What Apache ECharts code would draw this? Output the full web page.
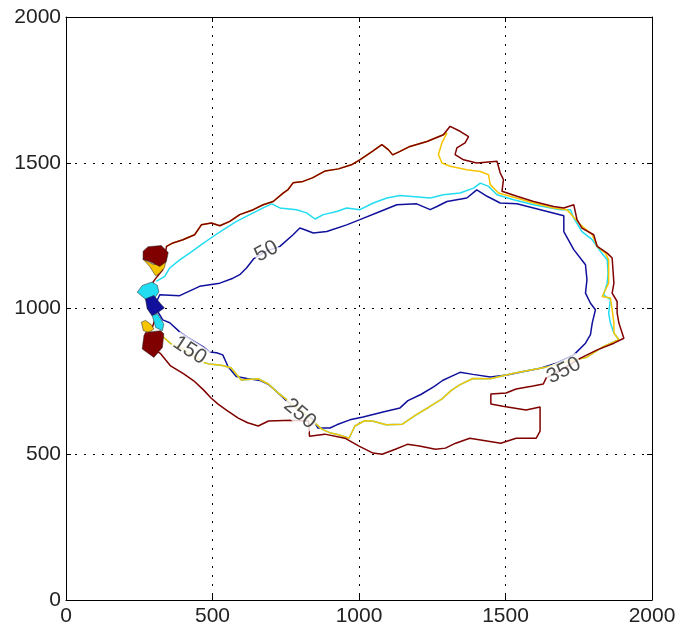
<!DOCTYPE html>
<html>
<head>
<meta charset="utf-8">
<title>contour</title>
<script src="https://cdn.jsdelivr.net/npm/echarts@6/dist/echarts.min.js"></script>
<style>
  html, body { margin: 0; padding: 0; background: #fff; }
  #chart { width: 680px; height: 631px; }
</style>
</head>
<body>
<div id="chart"></div>
<script>
// axis ticks
const ticks = [0, 500, 1000, 1500, 2000]

// contour 50 (dark blue), closed loop
const c50 = [[299,1002],[320,1047],[388,1044],[456,1076],[525,1087],[570,1104],[593,1116],[616,1139],[640,1170],[681,1196],[730,1213],[775,1253],[798,1276],[815,1270],[844,1259],[890,1264],[958,1287],[1003,1305],[1072,1333],[1129,1356],[1197,1359],[1243,1339],[1266,1350],[1300,1367],[1368,1379],[1402,1407],[1437,1385],[1482,1362],[1539,1359],[1619,1339],[1699,1318],[1699,1264],[1733,1202],[1773,1150],[1778,1099],[1773,1053],[1790,1018],[1807,996],[1796,950],[1790,910],[1773,881],[1733,841],[1676,813],[1619,795],[1562,784],[1505,772],[1448,765],[1389,774],[1345,781],[1315,767],[1285,753],[1256,732],[1211,705],[1167,684],[1140,659],[1082,645],[1014,628],[969,618],[924,601],[901,590],[860,590],[841,622],[796,650],[752,684],[722,712],[692,739],[663,753],[618,760],[581,767],[552,802],[548,812],[535,841],[514,848],[490,851],[467,869],[412,903],[388,920],[354,951],[330,961],[314,988],[299,1002]]

// contour 150 (cyan)
const c150 = [[308,1093],[337,1110],[354,1139],[388,1167],[422,1190],[462,1219],[502,1247],[536,1270],[582,1299],[627,1322],[673,1345],[702,1359],[730,1345],[787,1339],[821,1328],[850,1307],[878,1322],[924,1333],[958,1345],[1003,1339],[1049,1362],[1095,1379],[1140,1388],[1243,1379],[1288,1390],[1345,1396],[1391,1413],[1414,1430],[1442,1419],[1471,1390],[1528,1373],[1596,1356],[1687,1339],[1722,1339],[1733,1310],[1761,1264],[1796,1236],[1824,1196],[1847,1167],[1850,1120],[1847,1087],[1835,1047],[1858,1030],[1852,984],[1858,950],[1870,916],[1887,893],[1835,870],[1778,833],[1710,818],[1642,799],[1528,778],[1448,759],[1389,760],[1345,739],[1315,719],[1285,691],[1241,663],[1196,636],[1148,603],[1093,601],[1045,614],[1019,615],[986,597],[966,555],[930,567],[900,574],[873,586],[841,615],[811,643],[781,663],[752,688],[722,712],[691,741],[656,759],[598,755],[563,797],[530,805],[488,810],[470,815],[426,843],[396,864],[359,878],[337,898],[322,912]]

// upper rim shared by contours 250 and 350
const rim = [[343,1213],[365,1225],[399,1236],[439,1253],[462,1287],[496,1293],[525,1284],[559,1299],[593,1322],[639,1339],[673,1356],[707,1367],[741,1396],[758,1408],[775,1431],[809,1436],[841,1448],[885,1472],[930,1479],[974,1493],[1004,1511],[1048,1541],[1078,1562],[1100,1545],[1115,1527],[1140,1539],[1174,1556],[1232,1573],[1288,1596]]

// contour 250 (yellow), after the rim
const c250tail = [[1300,1602],[1283,1568],[1271,1528],[1283,1499],[1311,1488],[1368,1476],[1414,1470],[1442,1459],[1448,1425],[1476,1396],[1516,1385],[1596,1362],[1664,1345],[1710,1339],[1756,1287],[1796,1253],[1813,1213],[1841,1190],[1852,1167],[1852,1087],[1830,1041],[1858,1036],[1864,996],[1870,950],[1870,916],[1887,893],[1835,870],[1778,833],[1710,818],[1642,799],[1528,778],[1448,759],[1389,760],[1345,739],[1315,719],[1285,691],[1241,663],[1196,636],[1148,603],[1093,601],[1045,614],[1019,615],[986,597],[966,555],[930,567],[900,574],[873,586],[841,615],[811,643],[781,663],[752,688],[722,712],[691,741],[656,759],[598,755],[563,797],[530,805],[488,810],[470,815],[426,843],[396,864],[359,878],[337,898],[322,912]]

// contour 350 (dark red): left connector, then rim, then tail
const c350head = [[292,927],[303,961],[296,996],[285,1030],[279,1064],[303,1099],[330,1133]]
const c350tail = [[1311,1625],[1345,1608],[1374,1590],[1362,1568],[1334,1551],[1328,1528],[1357,1510],[1402,1499],[1471,1505],[1482,1465],[1493,1442],[1488,1402],[1539,1385],[1596,1367],[1664,1350],[1699,1345],[1733,1356],[1744,1305],[1761,1276],[1801,1253],[1813,1213],[1847,1190],[1864,1173],[1870,1087],[1864,1053],[1881,1024],[1881,984],[1887,950],[1904,898],[1870,881],[1813,858],[1756,830],[1699,795],[1673,779],[1639,762],[1629,741],[1594,734],[1536,724],[1502,710],[1450,707],[1450,672],[1491,665],[1570,652],[1618,662],[1618,579],[1605,555],[1536,555],[1484,538],[1378,555],[1330,538],[1295,521],[1261,517],[1206,528],[1165,534],[1124,517],[1079,500],[1048,504],[1000,528],[952,555],[883,569],[831,562],[828,614],[770,617],[691,614],[656,597],[620,608],[588,624],[550,650],[519,672],[495,693],[470,720],[436,752],[402,776],[357,803],[323,845],[300,860]]

// small filled patches near the left tip
const patchYellowTop = [[262,1170],[300,1150],[345,1180],[336,1140],[318,1120],[306,1112],[285,1145]]
const patchRedTop = [[263,1196],[280,1212],[325,1216],[349,1192],[342,1160],[320,1144],[285,1161],[263,1168]]
const patchCyan = [[243,1056],[260,1079],[294,1091],[312,1079],[317,1056],[300,1033],[277,1027]]
const patchBlue = [[271,1033],[300,1045],[323,1016],[336,1002],[312,985],[294,974],[277,999]]
const patchCyanLow = [[294,976],[312,982],[334,947],[329,924],[306,935]]
const patchYellowLow = [[257,953],[271,959],[289,947],[300,930],[283,918],[264,924]]
const patchRedLow = [[271,918],[323,924],[334,913],[329,866],[300,832],[260,861],[266,907]]

// contour labels
const labelText = ['50', '150', '250', '350']
const labelX = [684, 422, 798, 1699]
const labelY = [1196, 856, 639, 787]
const labelAngle = [28, -33, -40, 27]

const BLUE = '#10109c'
const CYAN = '#22dcf2'
const YELLOW = '#f7c400'
const RED = '#800000'

const patches = [
  { pts: patchYellowTop, color: YELLOW },
  { pts: patchRedTop, color: RED },
  { pts: patchCyan, color: CYAN },
  { pts: patchBlue, color: BLUE },
  { pts: patchCyanLow, color: CYAN },
  { pts: patchYellowLow, color: YELLOW },
  { pts: patchRedLow, color: RED }
]

const font = 'Liberation Sans, Arial, sans-serif'
const gridLine = { show: true, lineStyle: { color: '#000', width: 1, type: [2, 7] } }

function axis(pos, showLabel) {
  return {
    type: 'value', min: 0, max: 2000, interval: 500, position: pos,
    axisLine: { show: true, onZero: false, lineStyle: { color: '#000', width: 1 } },
    axisTick: { show: true, inside: true, length: 5, lineStyle: { color: '#000' } },
    axisLabel: { show: showLabel, fontSize: 21, color: '#222', fontFamily: font,
      margin: pos === 'bottom' ? 6 : 5, formatter: v => (ticks.indexOf(v) >= 0 ? String(v) : '') },
    splitLine: showLabel ? gridLine : { show: false }
  }
}

function contour(data, color, z) {
  return {
    type: 'line', data: data, symbol: 'none', showSymbol: false, silent: true,
    lineStyle: { color: color, width: 1.5 }, z: z, animation: false
  }
}

const chart = echarts.init(document.getElementById('chart'), null, { renderer: 'canvas' })
chart.setOption({
  animation: false,
  backgroundColor: '#fff',
  grid: { left: 66, right: 28, top: 17, bottom: 31, containLabel: false },
  xAxis: [axis('bottom', true), axis('top', false)],
  yAxis: [axis('left', true), axis('right', false)],
  series: [
    contour(c50, BLUE, 2),
    contour(c150, CYAN, 3),
    contour(rim.concat(c250tail), YELLOW, 4),
    contour(c350head.concat(rim, c350tail), RED, 5),
    {
      type: 'custom',
      z: 6,
      silent: true,
      data: patches.map((p, i) => [p.pts[0][0], p.pts[0][1], i]),
      renderItem: (params, api) => {
        const p = patches[api.value(2)]
        return {
          type: 'polygon',
          shape: { points: p.pts.map(pt => api.coord(pt)) },
          style: { fill: p.color, stroke: '#222', lineWidth: 0.5 }
        }
      }
    },
    {
      type: 'scatter',
      z: 8,
      silent: true,
      symbolSize: 2,
      itemStyle: { color: 'rgba(0,0,0,0)' },
      labelLayout: { hideOverlap: false },
      data: labelText.map((t, i) => ({
        name: t,
        value: [labelX[i], labelY[i]],
        label: { rotate: labelAngle[i] }
      })),
      label: {
        show: true, position: 'inside', formatter: '{b}',
        fontSize: 21, color: '#222', fontFamily: font,
        backgroundColor: '#fff', padding: [0, 1]
      }
    }
  ]
})
</script>
</body>
</html>
